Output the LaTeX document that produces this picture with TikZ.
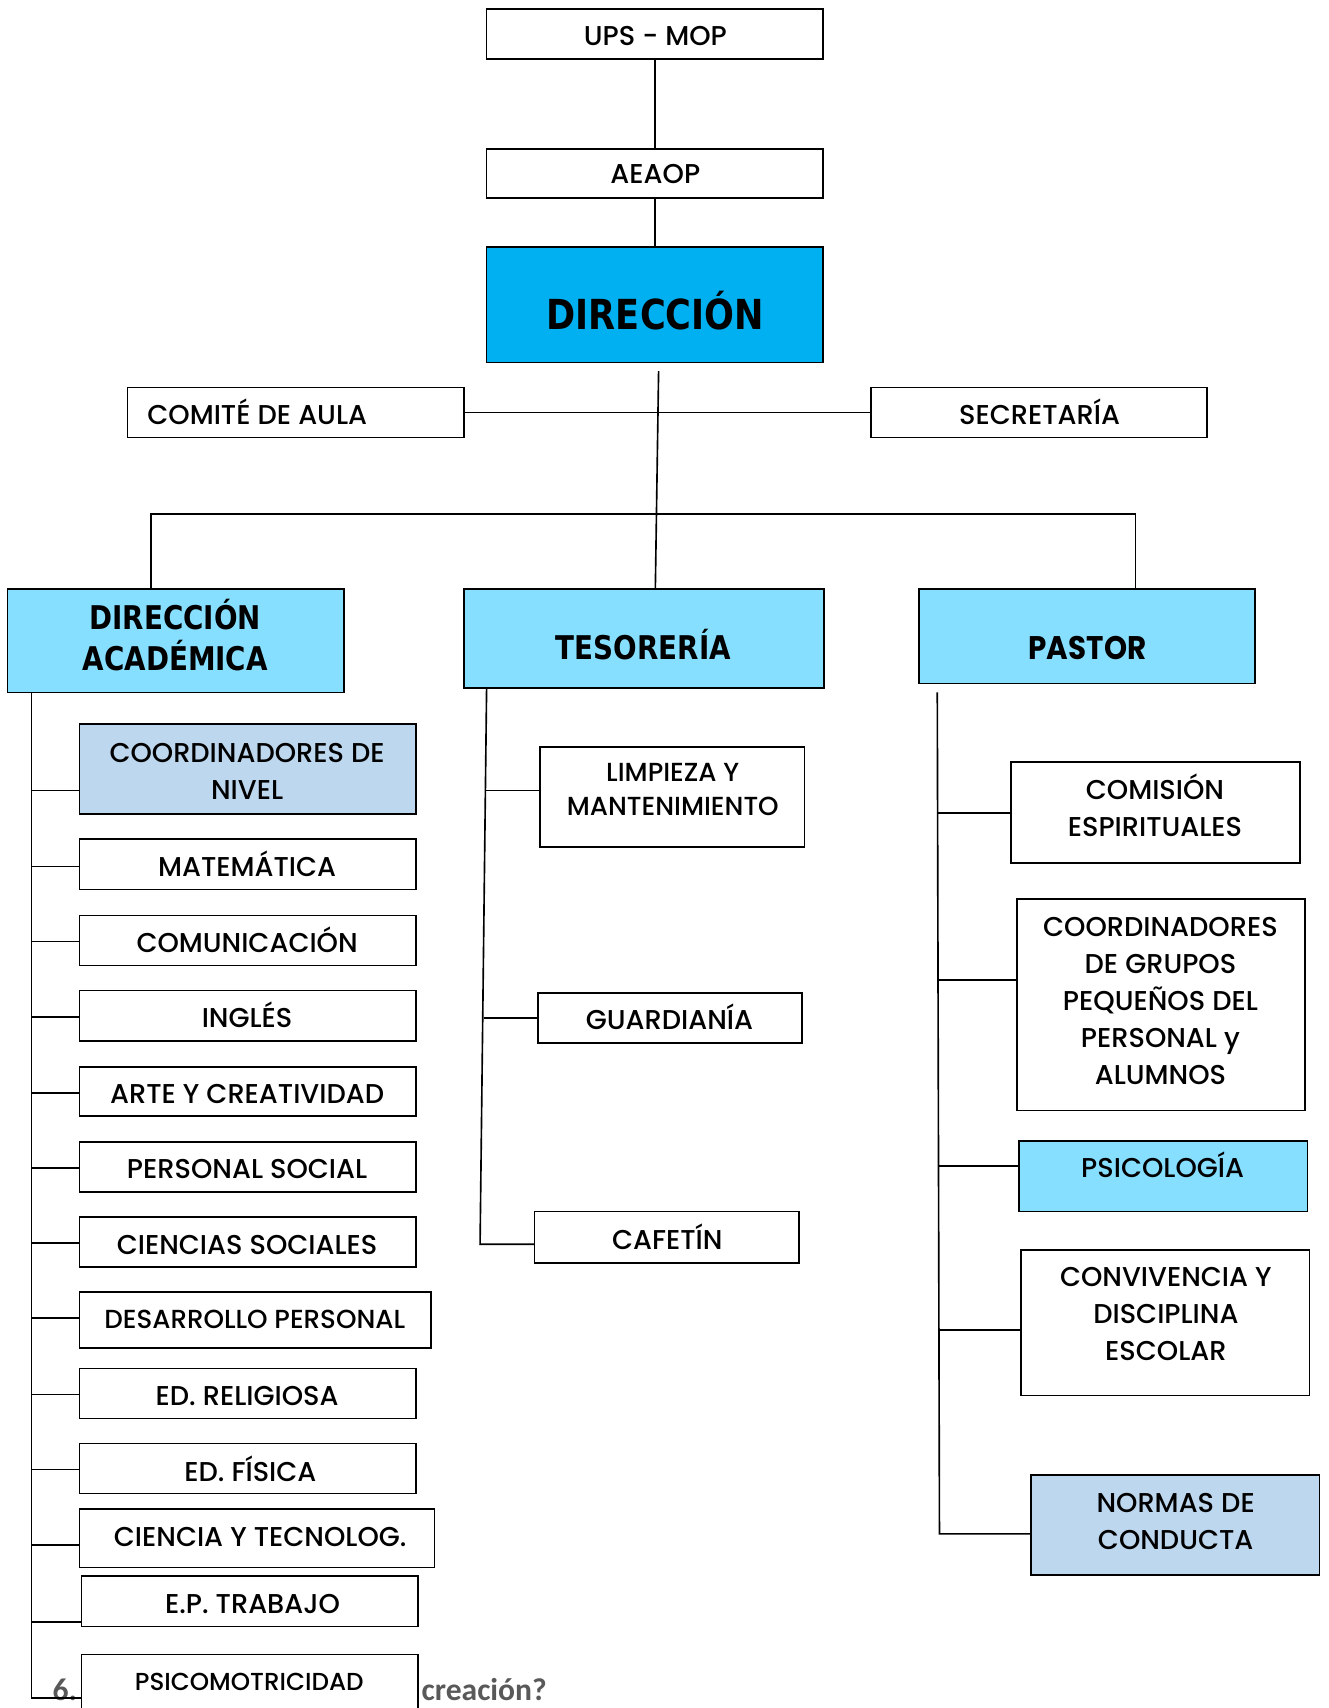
\documentclass[tikz,border=0pt]{standalone}
\usepackage{fontspec}
\setmainfont{Poppins}[UprightFont=* Medium]
\newfontfamily\ttlfont{DejaVu Sans}[FakeStretch=0.85]
\newfontfamily\pasfont{Poppins}[FakeStretch=0.9]
\newfontfamily\calfont{Carlito}
\usetikzlibrary{calc}
\definecolor{dirblue}{HTML}{00B0F0}
\definecolor{cyanl}{HTML}{87DFFF}
\definecolor{bluel}{HTML}{BDD7EE}
\definecolor{txtgray}{HTML}{595959}
\tikzset{
  box/.style={draw=black, line width=0.75pt, fill=white, inner sep=0pt, outer sep=0pt},
  conn/.style={draw=black, line width=0.75pt},
  lbl/.style={anchor=base, inner sep=0pt, font=\fontsize{12.5}{15}\selectfont},
  slbl/.style={anchor=base, inner sep=0pt, font=\fontsize{12}{14}\selectfont},
  ttl/.style={anchor=base, inner sep=0pt, font=\ttlfont\bfseries\fontsize{15}{18}\selectfont},
  bigttl/.style={anchor=base, inner sep=0pt, font=\ttlfont\bfseries\fontsize{19}{22}\selectfont},
  pttl/.style={anchor=base, inner sep=0pt, font=\pasfont\bfseries\fontsize{15}{18}\selectfont},
  gtxt/.style={anchor=base west, inner sep=0pt, text=txtgray, font=\calfont\bfseries\fontsize{14.5}{17}\selectfont},
}
\newcommand\obox[6]{\node[box,#6, minimum width={(#4-#2)*0.5pt}, minimum height={(#5-#3)*0.5pt}] (#1) at ({(#2+#4)/2},{(#3+#5)/2}) {};}
\newcommand\lconn[2]{\coordinate (#1c) at (29,#2); \draw[conn] (#1c) -- (#1c -| #1.west);}
\begin{document}
\begin{tikzpicture}[x=0.5pt,y=-0.5pt]
\useasboundingbox (0,0) rectangle (1220,1569);
% bottom grey text
\node[gtxt] (g6) at (48,1562) {6.};
\node[gtxt] (gcr) at (387,1562) {creación?};
% top
\obox{ups}{447}{8}{756}{54}{}
\obox{aeaop}{447}{137}{756}{182}{}
\obox{dir}{447}{227}{756}{333}{fill=dirblue}
\obox{comite}{117}{356}{426}{402}{}
\obox{secre}{800}{356}{1109}{402}{}
\obox{dacad}{7}{541}{316}{636}{fill=cyanl}
\obox{tes}{426}{541}{757}{632}{fill=cyanl}
\obox{pastor}{844}{541}{1153}{628}{fill=cyanl}
% left column
\obox{cn}{73}{665}{382}{748}{fill=bluel}
\obox{mat}{73}{771}{382}{817}{}
\obox{com}{73}{841}{382}{887}{}
\obox{ing}{73}{910}{382}{956}{}
\obox{arte}{73}{980}{382}{1025}{}
\obox{ps}{73}{1049}{382}{1095}{}
\obox{cs}{73}{1118}{382}{1164}{}
\obox{dp}{73}{1187}{396}{1238}{}
\obox{er}{73}{1257}{382}{1303}{}
\obox{ef}{73}{1326}{382}{1372}{}
\obox{ct}{73}{1386}{399}{1440}{}
\obox{ep}{75}{1448}{384}{1494}{}
\obox{psm}{75}{1520}{384}{1590}{}
% middle column
\obox{lim}{496}{686}{739}{778}{}
\obox{gua}{494}{912}{737}{958}{}
\obox{caf}{491}{1113}{734}{1160}{}
% right column
\obox{comis}{929}{700}{1194}{793}{}
\obox{cgp}{934}{826}{1199}{1020}{}
\obox{psi}{936}{1048}{1201}{1113}{fill=cyanl}
\obox{conv}{938}{1148}{1203}{1282}{}
\obox{norm}{947}{1355}{1212}{1447}{fill=bluel}
% texts
\node[lbl] (t-ups) at (602,42) {UPS - MOP};
\node[lbl] (t-aeaop) at (602,169) {AEAOP};
\node[bigttl] (t-dir) at (602,303) {DIRECCIÓN};
\node[lbl, anchor=base west] (t-comite) at (135,390) {COMITÉ DE AULA};
\node[lbl] (t-secre) at (955,390) {SECRETARÍA};
\node[ttl] (t-dacad1) at (161,578) {DIRECCIÓN};
\node[ttl] (t-dacad2) at (161,616) {ACADÉMICA};
\node[ttl] (t-tes) at (591,606) {TESORERÍA};
\node[pttl] (t-pastor) at (999,606) {PASTOR};
\node[lbl] (t-cn1) at (227,700) {COORDINADORES DE};
\node[lbl] (t-cn2) at (227,734) {NIVEL};
\node[lbl] (t-mat) at (227,805) {MATEMÁTICA};
\node[lbl] (t-com) at (227,875) {COMUNICACIÓN};
\node[lbl] (t-ing) at (227,944) {INGLÉS};
\node[lbl] (t-arte) at (227,1014) {ARTE Y CREATIVIDAD};
\node[lbl] (t-ps) at (227,1083) {PERSONAL SOCIAL};
\node[lbl] (t-cs) at (227,1152) {CIENCIAS SOCIALES};
\node[slbl] (t-dp) at (234,1220) {DESARROLLO PERSONAL};
\node[lbl] (t-er) at (227,1291) {ED. RELIGIOSA};
\node[lbl] (t-ef) at (230,1361) {ED. FÍSICA};
\node[lbl] (t-ct) at (239,1421) {CIENCIA Y TECNOLOG.};
\node[lbl] (t-ep) at (232,1482) {E.P. TRABAJO};
\node[slbl, font=\fontsize{11.3}{14}\selectfont] (t-psm) at (229,1553) {PSICOMOTRICIDAD};
\node[slbl] (t-lim1) at (618,718) {LIMPIEZA Y};
\node[slbl] (t-lim2) at (618,749) {MANTENIMIENTO};
\node[lbl] (t-gua) at (615,946) {GUARDIANÍA};
\node[lbl] (t-caf) at (613,1148) {CAFETÍN};
\node[lbl] (t-comis1) at (1061,734) {COMISIÓN};
\node[lbl] (t-comis2) at (1061,768) {ESPIRITUALES};
\node[lbl] (t-cgp1) at (1066,860) {COORDINADORES};
\node[lbl] (t-cgp2) at (1066,894) {DE GRUPOS};
\node[lbl] (t-cgp3) at (1066,928) {PEQUEÑOS DEL};
\node[lbl] (t-cgp4) at (1066,962) {PERSONAL y};
\node[lbl] (t-cgp5) at (1066,996) {ALUMNOS};
\node[lbl] (t-psi) at (1068,1082) {PSICOLOGÍA};
\node[lbl] (t-conv1) at (1071,1182) {CONVIVENCIA Y};
\node[lbl] (t-conv2) at (1071,1216) {DISCIPLINA};
\node[lbl] (t-conv3) at (1071,1250) {ESCOLAR};
\node[lbl] (t-norm1) at (1080,1389) {NORMAS DE};
\node[lbl] (t-norm2) at (1080,1423) {CONDUCTA};
% top connectors
\draw[conn] (ups.south) -- (aeaop.north);
\draw[conn] (aeaop.south) -- (dir.north);
\coordinate (dtop) at (605,341);
\coordinate (xm) at (602,0);
\draw[conn] (dtop) -- (tes.north -| xm);
\draw[conn] (comite.east) -- (secre.west);
\coordinate (barL) at (139,472);
\coordinate (barR) at (1043,472);
\draw[conn] (dacad.north -| barL) -- (barL) -- (barR) -- (pastor.north -| barR);
% left spine
\coordinate (lsb) at (29,1560);
\draw[conn] (dacad.south -| lsb) -- (lsb) -- (lsb -| psm.west);
\lconn{cn}{726}
\lconn{mat}{796}
\lconn{com}{865}
\lconn{ing}{934}
\lconn{arte}{1004}
\lconn{ps}{1073}
\lconn{cs}{1142}
\lconn{dp}{1211}
\lconn{er}{1281}
\lconn{ef}{1350}
\lconn{ct}{1419}
\lconn{ep}{1490}
% middle spine
\coordinate (msT) at (447,632);
\coordinate (msB) at (441,1143);
\draw[conn] (msT) -- (msB) -- (msB -| caf.west);
\coordinate (m1) at (446.3,726);
\coordinate (m2) at (444.4,935);
\draw[conn] (m1) -- (m1 -| lim.west);
\draw[conn] (m2) -- (m2 -| gua.west);
% right spine
\coordinate (rsT) at (861,636);
\coordinate (rsB) at (863,1409);
\draw[conn] (rsT) -- (rsB) -- (rsB -| norm.west);
\coordinate (r1) at (861.3,747);
\coordinate (r2) at (861.7,900);
\coordinate (r3) at (862.1,1071);
\coordinate (r4) at (862.5,1222);
\draw[conn] (r1) -- (r1 -| comis.west);
\draw[conn] (r2) -- (r2 -| cgp.west);
\draw[conn] (r3) -- (r3 -| psi.west);
\draw[conn] (r4) -- (r4 -| conv.west);
\end{tikzpicture}
\end{document}
